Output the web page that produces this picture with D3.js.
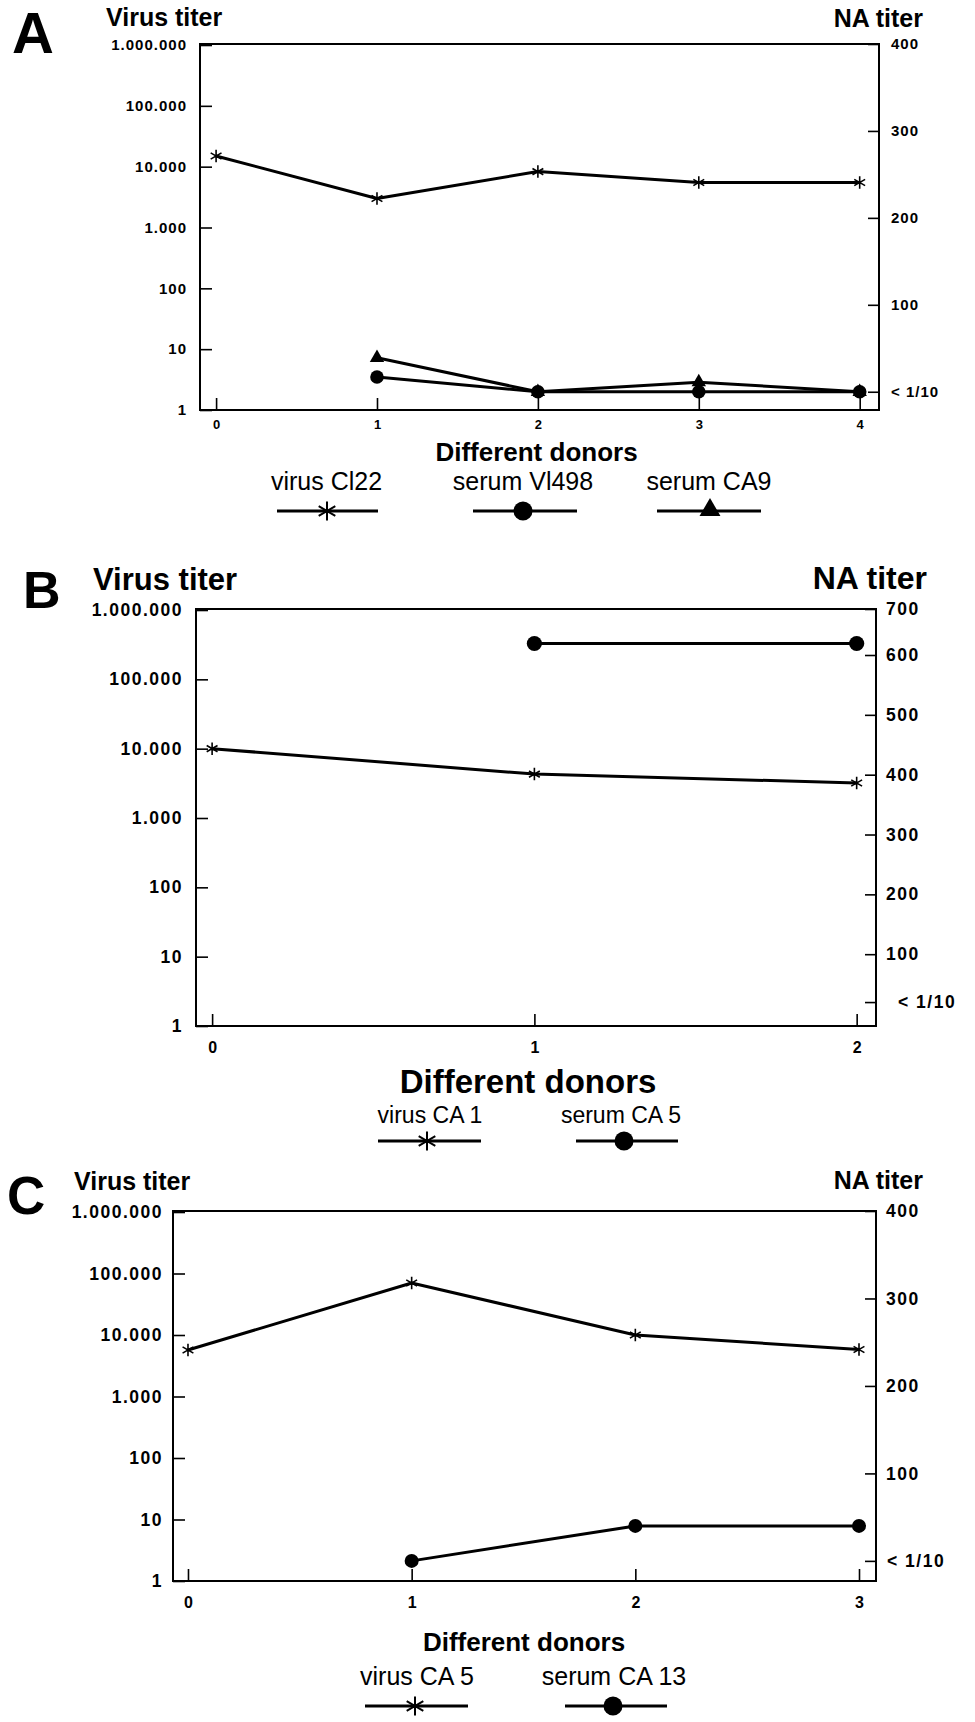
<!DOCTYPE html>
<html><head><meta charset="utf-8">
<script src="https://cdn.jsdelivr.net/npm/d3@7"></script>
<style>
body{margin:0;background:#fff}
svg{display:block}
text{font-family:"Liberation Sans",Arial,Helvetica,sans-serif;fill:#000}
</style>
</head><body>
<svg id="chart" width="975" height="1722"></svg>
<script>
// ---------------- DATA ----------------
const virusTicks = [1, 10, 100, 1000, 10000, 100000, 1000000];
const virusTickLabels = ["1", "10", "100", "1.000", "10.000", "100.000", "1.000.000"];
const naFloorLabel = "< 1/10";

// Panel A
const donorsA = [0, 1, 2, 3, 4];
const virusCl22 = [15000, 3000, 8300, 5500, 5500];
const serumDonorsA = [1, 2, 3, 4];
const serumVl498 = [17, 0, 0, 0];
const serumCA9 = [39, 0, 11, 0];
const naTicksA = [400, 300, 200, 100];
const naFloorA = 0;

// Panel B
const donorsB = [0, 1, 2];
const virusCA1 = [10000, 4300, 3200];
const serumDonorsB = [1, 2];
const serumCA5 = [625, 625];
const naTicksB = [700, 600, 500, 400, 300, 200, 100];
const naFloorB = 20;

// Panel C
const donorsC = [0, 1, 2, 3];
const virusCA5 = [5700, 70000, 10000, 5800];
const serumDonorsC = [1, 2, 3];
const serumCA13 = [0, 40, 40];
const naTicksC = [400, 300, 200, 100];
const naFloorC = 0;

// ---------------- LAYOUT ----------------
const panels = [
  {
    letter: "A", letterPos: [12, 53, 58],
    frame: {l: 200, t: 44, r: 879, b: 410},
    xDom: [-0.1, 4.12], naDom: [-21, 400], naRange: null,
    donors: donorsA, naTicks: naTicksA, naFloor: naFloorA, floorDx: 0,
    virusTitle: [106, 26, 25], naTitle: [923, 27, 25],
    tickSize: 15, tickLS: 1, leftPad: 13, rightPad: 12,
    xLabSize: 13, xLabPad: 10, circR: 6.8,
    dd: [536.5, 461, 26],
    legend: {ty: 490, ly: 511, size: 25, items: [
      {text: "virus Cl22", tx: 326.5, x1: 277, x2: 378, mx: 327, m: "star"},
      {text: "serum Vl498", tx: 523, x1: 473, x2: 577, mx: 523, m: "circle"},
      {text: "serum CA9", tx: 709, x1: 657, x2: 761, mx: 710, m: "triangle"}
    ]},
    series: [
      {xs: donorsA, ys: virusCl22, axis: "virus", m: "star"},
      {xs: serumDonorsA, ys: serumVl498, axis: "na", m: "circle"},
      {xs: serumDonorsA, ys: serumCA9, axis: "na", m: "triangle"}
    ]
  },
  {
    letter: "B", letterPos: [23, 608, 52],
    frame: {l: 196, t: 609, r: 876, b: 1026},
    xDom: [-0.05, 2.06], naDom: [-20, 600, 700], naRange: [1026, 655, 609],
    donors: donorsB, naTicks: naTicksB, naFloor: naFloorB, floorDx: 12,
    virusTitle: [93, 590, 31], naTitle: [927, 589, 32],
    tickSize: 17.5, tickLS: 1.5, leftPad: 13, rightPad: 10,
    xLabSize: 16, xLabPad: 16, circR: 7.6,
    dd: [528, 1093, 33],
    legend: {ty: 1123, ly: 1141, size: 23, items: [
      {text: "virus CA 1", tx: 430, x1: 378, x2: 481, mx: 427, m: "star"},
      {text: "serum CA 5", tx: 621, x1: 576, x2: 678, mx: 624, m: "circle"}
    ]},
    series: [
      {xs: donorsB, ys: virusCA1, axis: "virus", m: "star"},
      {xs: serumDonorsB, ys: serumCA5, axis: "na", m: "circle"}
    ]
  },
  {
    letter: "C", letterPos: [7, 1214, 53],
    frame: {l: 173, t: 1211, r: 876, b: 1581},
    xDom: [-0.067, 3.076], naDom: [-23, 400], naRange: null,
    donors: donorsC, naTicks: naTicksC, naFloor: naFloorC, floorDx: 1,
    virusTitle: [74, 1190, 25], naTitle: [923, 1189, 25],
    tickSize: 17.5, tickLS: 1.5, leftPad: 10, rightPad: 10,
    xLabSize: 16, xLabPad: 16, circR: 7,
    dd: [524, 1651, 26],
    legend: {ty: 1685, ly: 1706, size: 25, items: [
      {text: "virus CA 5", tx: 417, x1: 365, x2: 468, mx: 415, m: "star"},
      {text: "serum CA 13", tx: 614, x1: 565, x2: 667, mx: 613, m: "circle"}
    ]},
    series: [
      {xs: donorsC, ys: virusCA5, axis: "virus", m: "star"},
      {xs: serumDonorsC, ys: serumCA13, axis: "na", m: "circle"}
    ]
  }
];

// ---------------- DRAW ----------------
const svg = d3.select("#chart");
svg.append("rect").attr("width", 975).attr("height", 1722).attr("fill", "#fff");

function marker(g, type, x, y, big, r) {
  if (type === "star") {
    const s = big ? 260 : 110;
    g.append("path").attr("d", d3.symbol(d3.symbolAsterisk, s)())
      .attr("transform", `translate(${x},${y})`)
      .attr("fill", "none").attr("stroke", "#000").attr("stroke-width", big ? 2 : 1.6);
  } else if (type === "circle") {
    g.append("circle").attr("cx", x).attr("cy", y).attr("r", big ? 9.5 : r).attr("fill", "#000");
  } else {
    const s = big ? 190 : 90;
    g.append("path").attr("d", d3.symbol(d3.symbolTriangle, s)())
      .attr("transform", `translate(${x},${y - (big ? 1 : 0)})`).attr("fill", "#000");
  }
}

panels.forEach(p => {
  const f = p.frame;
  const g = svg.append("g");
  const x = d3.scaleLinear().domain(p.xDom).range([f.l, f.r]);
  const yV = d3.scaleLog().domain([1, 1e6]).range([f.b, f.t + 1]);
  const yN = d3.scaleLinear().domain(p.naDom).range(p.naRange || [f.b, f.t]);

  g.append("text").attr("x", p.letterPos[0]).attr("y", p.letterPos[1])
    .attr("font-size", p.letterPos[2]).attr("font-weight", "bold").text(p.letter);
  g.append("text").attr("x", p.virusTitle[0]).attr("y", p.virusTitle[1])
    .attr("font-size", p.virusTitle[2]).attr("font-weight", "bold").text("Virus titer");
  g.append("text").attr("x", p.naTitle[0]).attr("y", p.naTitle[1]).attr("text-anchor", "end")
    .attr("font-size", p.naTitle[2]).attr("font-weight", "bold").text("NA titer");

  const la = g.append("g").attr("transform", `translate(${f.l},0)`)
    .call(d3.axisLeft(yV).tickValues(virusTicks).tickSizeInner(-12).tickSizeOuter(0)
      .tickPadding(p.leftPad).tickFormat((d, i) => virusTickLabels[i]));
  la.select(".domain").remove();
  la.selectAll("line").attr("stroke-width", 1.6);
  la.selectAll("text").attr("font-size", p.tickSize).attr("font-weight", "bold")
    .attr("letter-spacing", p.tickLS).attr("font-family", '"Liberation Sans",Arial,sans-serif');

  const naVals = [p.naFloor].concat(p.naTicks);
  const ra = g.append("g").attr("transform", `translate(${f.r},0)`)
    .call(d3.axisRight(yN).tickValues(naVals).tickSizeInner(-11).tickSizeOuter(0)
      .tickPadding(p.rightPad).tickFormat(d => d === p.naFloor ? naFloorLabel : String(d)));
  ra.select(".domain").remove();
  ra.selectAll("line").attr("stroke-width", 1.6);
  ra.selectAll("text").attr("font-size", p.tickSize).attr("font-weight", "bold")
    .attr("letter-spacing", p.tickLS).attr("font-family", '"Liberation Sans",Arial,sans-serif')
    .attr("dx", d => d === p.naFloor ? p.floorDx : 0);

  const ba = g.append("g").attr("transform", `translate(0,${f.b})`)
    .call(d3.axisBottom(x).tickValues(p.donors).tickSizeInner(-12).tickSizeOuter(0)
      .tickPadding(p.xLabPad).tickFormat(d3.format("d")));
  ba.select(".domain").remove();
  ba.selectAll("line").attr("stroke-width", 1.6);
  ba.selectAll("text").attr("font-size", p.xLabSize).attr("font-weight", "bold")
    .attr("font-family", '"Liberation Sans",Arial,sans-serif');

  g.append("rect").attr("x", f.l).attr("y", f.t).attr("width", f.r - f.l).attr("height", f.b - f.t)
    .attr("fill", "none").attr("stroke", "#000").attr("stroke-width", 2);

  g.append("text").attr("x", p.dd[0]).attr("y", p.dd[1]).attr("text-anchor", "middle")
    .attr("font-size", p.dd[2]).attr("font-weight", "bold").text("Different donors");

  p.series.forEach(s => {
    const yS = s.axis === "virus" ? yV : yN;
    const pts = s.xs.map((d, i) => [x(d), yS(s.ys[i])]);
    g.append("path").attr("d", d3.line()(pts)).attr("fill", "none")
      .attr("stroke", "#000").attr("stroke-width", 3).attr("stroke-linejoin", "round");
    pts.forEach(pt => marker(g, s.m, pt[0], pt[1], false, p.circR));
  });

  const L = p.legend;
  L.items.forEach(it => {
    g.append("text").attr("x", it.tx).attr("y", L.ty).attr("text-anchor", "middle")
      .attr("font-size", L.size).text(it.text);
    g.append("line").attr("x1", it.x1).attr("x2", it.x2).attr("y1", L.ly).attr("y2", L.ly)
      .attr("stroke", "#000").attr("stroke-width", 3);
    marker(g, it.m, it.mx, L.ly, true, p.circR);
  });
});
</script>
</body></html>
